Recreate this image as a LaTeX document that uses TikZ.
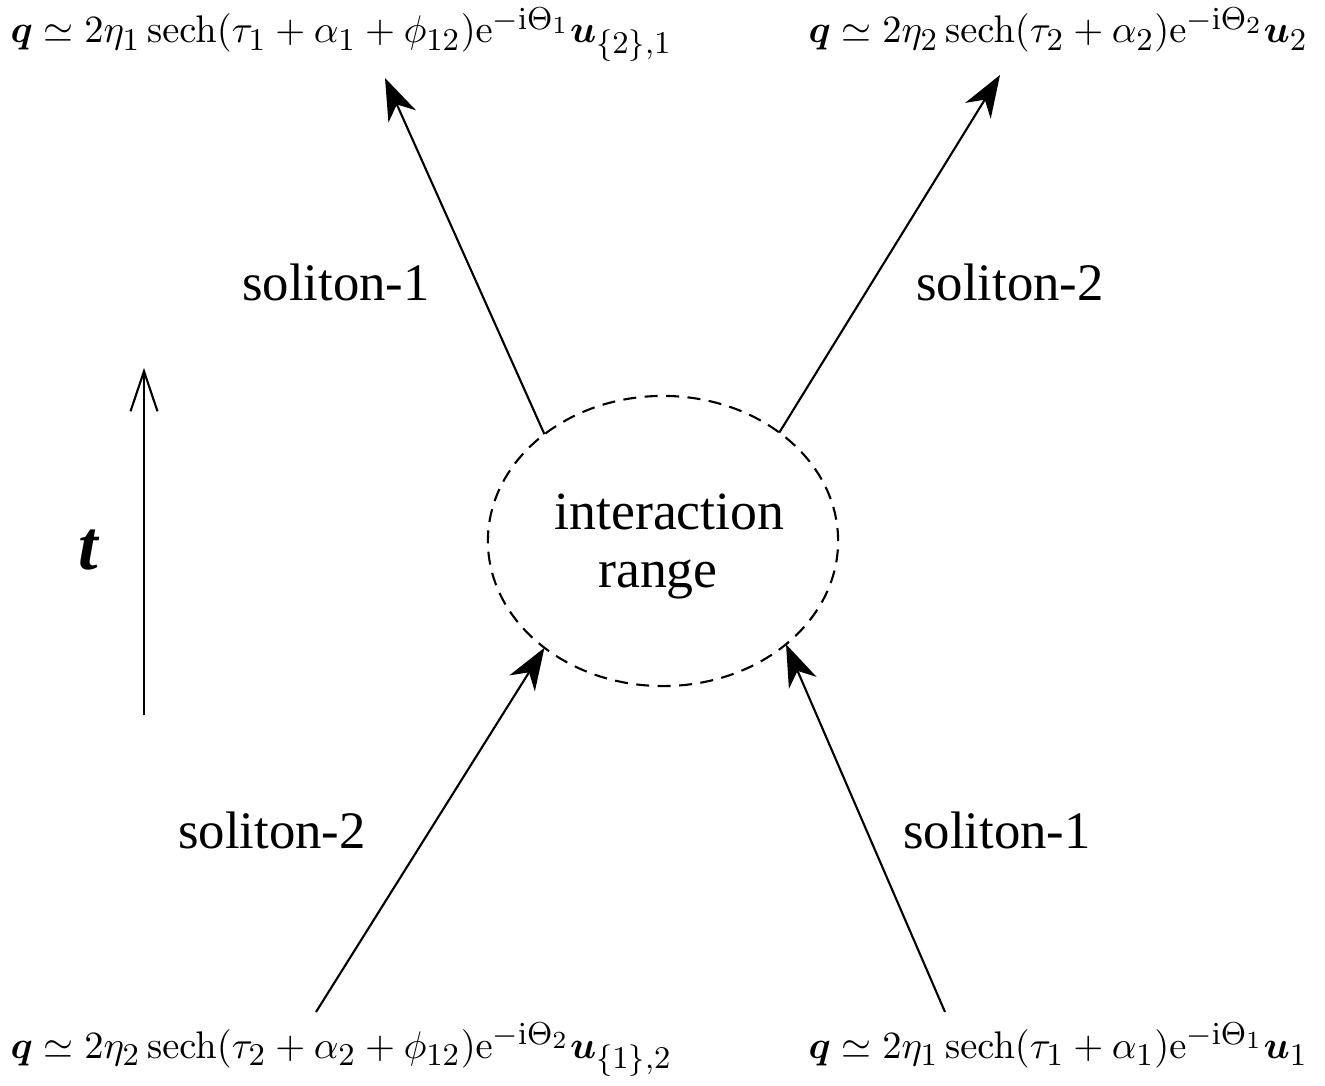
\documentclass[tikz,border=0pt]{standalone}
\usepackage{amsmath}
\usepackage[no-math]{fontspec}
\setmainfont{Liberation Serif}
\usetikzlibrary{arrows.meta,positioning,shapes.geometric}
\DeclareMathSizes{10.8}{10.8}{9}{7}
\tikzset{
  sol/range/.style={draw, ellipse, line width=0.6pt, dash pattern=on 3.7pt off 2.4pt, minimum width=3.5cm, minimum height=2.9cm, inner sep=0pt, outer sep=0pt, align=center, font=\fontsize{15.3}{16.5}\selectfont},
  sol/path/.style={line width=0.6pt, -{Stealth[length=0.42cm, width=0.3cm, inset=0.13cm]}},
  sol/label/.style={font=\fontsize{15}{18}\selectfont, inner sep=0pt},
  sol/formula/.style={font=\fontsize{10.8}{14}\selectfont, inner sep=0pt, anchor=base west},
  sol/time/.style={line width=0.6pt, -{Straight Barb[length=0.4cm, width=0.27cm]}},
  sol/tvar/.style={font=\fontsize{20}{24}\selectfont\bfseries\itshape, inner sep=0pt}
}

\begin{document}
\begin{tikzpicture}[x=0.01cm, y=-0.01cm]
  \useasboundingbox (0,0) rectangle (1325,1086);

  % interaction region
  \node[sol/range] (range) at (663,541) {\rule{0pt}{0.47cm}\hspace*{0.13cm}interaction\\range\hspace*{0.1cm}};

  % asymptotic states
  \node[sol/formula] (out1) at (10,43) {$\boldsymbol{q}\simeq 2\eta_1\operatorname{sech}(\tau_1+\alpha_1+\phi_{12})\mathrm{e}^{-\mathrm{i}\Theta_1}\boldsymbol{u}_{\{2\},1}$};
  \node[sol/formula] (out2) at (808,43) {$\boldsymbol{q}\simeq 2\eta_2\operatorname{sech}(\tau_2+\alpha_2)\mathrm{e}^{-\mathrm{i}\Theta_2}\boldsymbol{u}_2$};
  \node[sol/formula] (in2) at (10,1058) {$\boldsymbol{q}\simeq 2\eta_2\operatorname{sech}(\tau_2+\alpha_2+\phi_{12})\mathrm{e}^{-\mathrm{i}\Theta_2}\boldsymbol{u}_{\{1\},2}$};
  \node[sol/formula] (in1) at (808,1058) {$\boldsymbol{q}\simeq 2\eta_1\operatorname{sech}(\tau_1+\alpha_1)\mathrm{e}^{-\mathrm{i}\Theta_1}\boldsymbol{u}_1$};

  % free ends of the soliton paths
  \coordinate (out1tip) at (385,78);
  \coordinate (out2tip) at (1000,75);
  \coordinate (in2tail) at (316,1012);
  \coordinate (in1tail) at (945,1012);

  \draw[sol/path] (range.138.5) -- (out1tip);
  \draw[sol/path] (range.43) -- (out2tip);
  \draw[sol/path] (in2tail) -- (range.-138);
  \draw[sol/path] (in1tail) -- (range.-40);

  \node[sol/label] (lab1out) at (336,282) {soliton-1};
  \node[sol/label] (lab2out) at (1010,282) {soliton-2};
  \node[sol/label] (lab2in) at (272,830) {soliton-2};
  \node[sol/label] (lab1in) at (997,830) {soliton-1};

  % time axis
  \coordinate (tbot) at (144,715);
  \coordinate (ttop) at (144,368);
  \draw[sol/time] (tbot) -- (ttop);
  \node[sol/tvar] (tlab) at (88,550) {t};
\end{tikzpicture}
\end{document}
